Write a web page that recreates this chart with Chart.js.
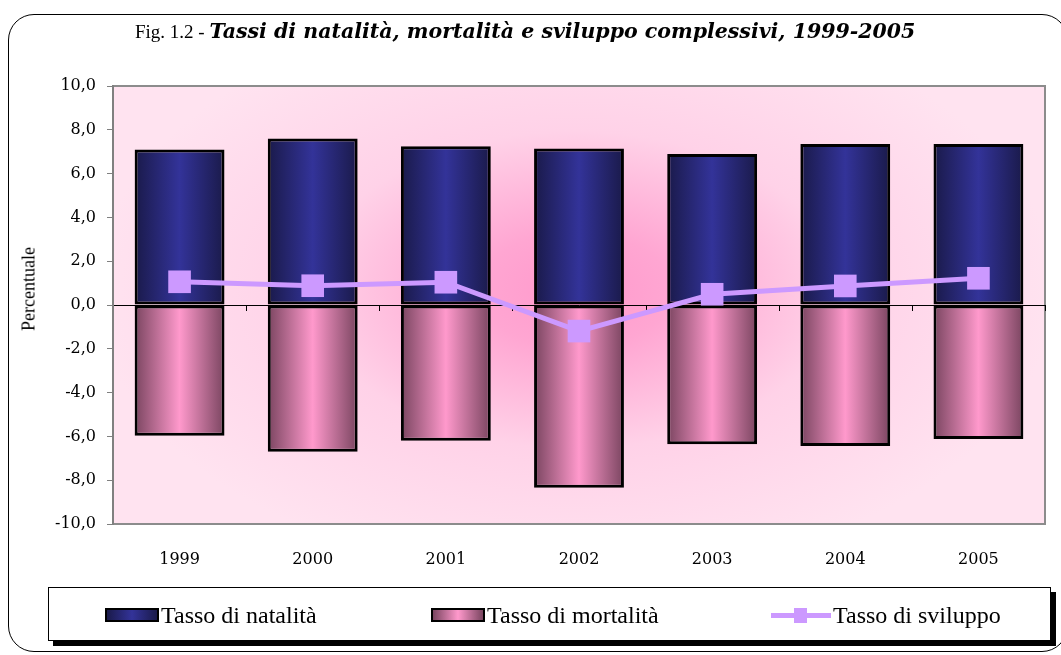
<!DOCTYPE html>
<html>
<head>
<meta charset="utf-8">
<script src="https://cdn.jsdelivr.net/npm/chart.js@4"></script>
<style>
  body { margin: 0; background: #fff; }
  #wrap { position: relative; width: 1061px; height: 655px; overflow: hidden; }
  #frame { position: absolute; left: 8px; top: 14px; width: 1060px; height: 638px; border: 1.5px solid #000; border-radius: 26px; box-sizing: border-box; }
  #title { position: absolute; left: 135px; top: 19px; white-space: nowrap; color: #000; }
  #title .fig { font-family: "Liberation Serif", serif; font-size: 19px; }
  #title .main { font-family: "DejaVu Serif", serif; font-weight: bold; font-style: italic; font-size: 20.5px; }
  #ytitle { position: absolute; left: 29px; top: 289px; transform: translate(-50%, -50%) rotate(-90deg); font-family: "Liberation Serif", serif; font-size: 18px; white-space: nowrap; }
  canvas { position: absolute; left: 0; top: 0; }
  #legend { position: absolute; left: 48px; top: 587px; width: 1003px; height: 54px; border: 1px solid #000; background: #fff; box-shadow: 5px 5px 0 #000; box-sizing: border-box; }
  .item { position: absolute; top: 0; height: 54px; display: flex; align-items: center; font-family: "Liberation Serif", serif; font-size: 24px; }
  .sw { width: 54px; height: 14px; border: 2px solid #000; box-sizing: border-box; margin-right: 2px; }
  .ln { position: relative; width: 60px; height: 14px; margin-right: 2px; }
  .ln::before { content: ""; position: absolute; left: 0; right: 0; top: 5px; height: 5px; background: #cc99ff; }
  .ln::after { content: ""; position: absolute; left: 23px; top: 0px; width: 13px; height: 15px; background: #cc99ff; }
</style>
</head>
<body>
<div id="wrap">
  <div id="frame"></div>
  <canvas id="chart" width="1061" height="655"></canvas>
  <div id="title"><span class="fig">Fig. 1.2 - </span><span class="main">Tassi di natalità, mortalità e sviluppo complessivi, 1999-2005</span></div>
  <div id="ytitle">Percentuale</div>
  <div id="legend"></div>
</div>
<script>
const years = ['1999', '2000', '2001', '2002', '2003', '2004', '2005'];
const natalita = [7.1, 7.6, 7.25, 7.15, 6.9, 7.35, 7.35];
const mortalita = [-5.97, -6.7, -6.2, -8.34, -6.36, -6.44, -6.12];
const sviluppo = [1.06, 0.88, 1.04, -1.19, 0.49, 0.87, 1.22];
const yTicks = [-10, -8, -6, -4, -2, 0, 2, 4, 6, 8, 10];

const BAR_PCT = 0.675;

function barGradient(edge, mid) {
    return function (context) {
        const chart = context.chart;
        const area = chart.chartArea;
        if (!area || context.dataIndex === undefined) return mid;
        const x = chart.scales.x.getPixelForValue(context.dataIndex);
        const half = (area.width / years.length) * BAR_PCT / 2;
        const g = chart.ctx.createLinearGradient(x - half, 0, x + half, 0);
        g.addColorStop(0, edge);
        g.addColorStop(0.5, mid);
        g.addColorStop(1, edge);
        return g;
    };
}

// plot background + frame, and the little ticks on the zero line
const plotDecor = {
    id: 'plotDecor',
    beforeDraw(chart) {
        const { ctx, chartArea: a } = chart;
        ctx.save();
        const cx = 575, cy = 290;
        const k = 0.6;
        ctx.translate(cx, cy);
        ctx.scale(1, k);
        const g = ctx.createRadialGradient(0, 0, 0, 0, 0, 480);
        g.addColorStop(0, '#ff99cc');
        g.addColorStop(0.2, '#ffa6d2');
        g.addColorStop(0.55, '#ffd2e8');
        g.addColorStop(1, '#ffe3f0');
        ctx.fillStyle = g;
        ctx.fillRect(a.left - cx, (a.top - cy) / k, a.width, a.height / k);
        ctx.restore();
        ctx.save();
        ctx.strokeStyle = '#8c8c8c';
        ctx.lineWidth = 2;
        ctx.strokeRect(a.left, a.top, a.width, a.height);
        ctx.restore();
    },
    beforeDatasetsDraw(chart) {
        const { ctx, chartArea: a, scales: { x, y } } = chart;
        const y0 = y.getPixelForValue(0);
        ctx.save();
        ctx.strokeStyle = '#000';
        ctx.lineWidth = 1;
        ctx.beginPath();
        for (let i = 1; i <= years.length; i++) {
            const px = i === years.length ? a.right : (x.getPixelForValue(i - 1) + x.getPixelForValue(i)) / 2;
            ctx.moveTo(Math.round(px) + 0.5, y0);
            ctx.lineTo(Math.round(px) + 0.5, y0 + 6);
        }
        ctx.stroke();
        ctx.restore();
    }
};

const ctx = document.getElementById('chart').getContext('2d');
const chart = new Chart(ctx, {
    data: {
        labels: years,
        datasets: [
            {
                type: 'line',
                label: 'Tasso di sviluppo',
                data: sviluppo,
                stack: 'linea',
                order: 0,
                borderColor: '#cc99ff',
                borderWidth: 5,
                pointStyle: 'rect',
                pointRadius: 16,
                pointBackgroundColor: '#cc99ff',
                pointBorderWidth: 0,
                tension: 0
            },
            {
                type: 'bar',
                label: 'Tasso di natalità',
                data: natalita,
                stack: 'barre',
                order: 1,
                backgroundColor: barGradient('#1a1a4a', '#333399'),
                borderColor: '#000',
                borderWidth: 3,
                borderSkipped: false,
                barPercentage: BAR_PCT,
                categoryPercentage: 1
            },
            {
                type: 'bar',
                label: 'Tasso di mortalità',
                data: mortalita,
                stack: 'barre',
                order: 1,
                backgroundColor: barGradient('#7a4560', '#ff99cc'),
                borderColor: '#000',
                borderWidth: 3,
                borderSkipped: false,
                barPercentage: BAR_PCT,
                categoryPercentage: 1
            }
        ]
    },
    options: {
        responsive: false,
        animation: false,
        layout: { padding: { left: 0, top: 86, right: 15, bottom: 71 } },
        plugins: {
            legend: { display: false },
            title: { display: false },
            tooltip: { enabled: false }
        },
        scales: {
            x: {
                stacked: true,
                grid: { display: false, drawTicks: false },
                border: { display: false },
                ticks: { color: '#000', font: { family: 'DejaVu Serif', size: 16 }, padding: 26 },
                afterFit: s => { s.height = 60; }
            },
            y: {
                stacked: true,
                min: -10,
                max: 10,
                afterBuildTicks: s => { s.ticks = yTicks.map(v => ({ value: v })); },
                ticks: {
                    color: '#000',
                    font: { family: 'DejaVu Serif', size: 16 },
                    padding: 11,
                    callback: v => v.toFixed(1).replace('.', ',')
                },
                grid: {
                    color: c => c.tick && c.tick.value === 0 ? '#000' : 'rgba(0,0,0,0)',
                    tickColor: '#808080',
                    tickLength: 6,
                    lineWidth: 1
                },
                border: { display: true, color: '#808080', width: 2 },
                afterFit: s => { s.width = 113; }
            }
        }
    },
    plugins: [plotDecor]
});

// legend built from the datasets
const legend = document.getElementById('legend');
const legendPos = { 'Tasso di natalità': 56, 'Tasso di mortalità': 382, 'Tasso di sviluppo': 722 };
const swatches = {
    'Tasso di natalità': 'linear-gradient(to right, #1a1a4a, #333399, #1a1a4a)',
    'Tasso di mortalità': 'linear-gradient(to right, #7a4560, #ff99cc, #7a4560)'
};
[chart.data.datasets[1], chart.data.datasets[2], chart.data.datasets[0]].forEach(ds => {
    const item = document.createElement('div');
    item.className = 'item';
    item.style.left = legendPos[ds.label] + 'px';
    const sw = document.createElement('div');
    if (ds.type === 'line') {
        sw.className = 'ln';
    } else {
        sw.className = 'sw';
        sw.style.background = swatches[ds.label];
    }
    const txt = document.createElement('span');
    txt.textContent = ds.label;
    item.appendChild(sw);
    item.appendChild(txt);
    legend.appendChild(item);
});
</script>
</body>
</html>
